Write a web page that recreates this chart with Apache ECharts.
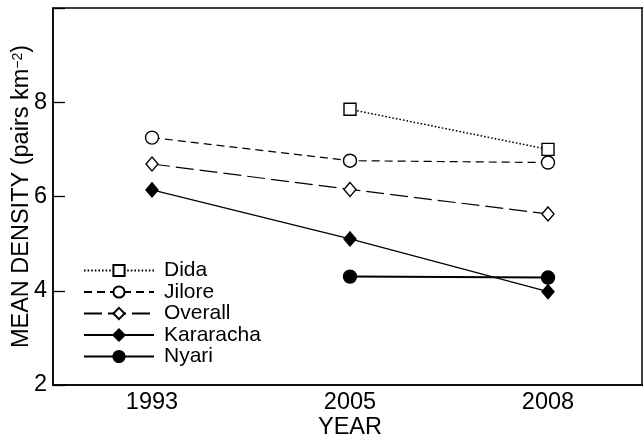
<!DOCTYPE html>
<html><head><meta charset="utf-8">
<script src="https://cdn.jsdelivr.net/npm/echarts@6/dist/echarts.min.js"></script>
<style>html,body{margin:0;padding:0;background:#fff}#c{width:643px;height:438px}</style>
</head><body><div id="c"></div>
<script>
const years = ['1993', '2005', '2008'];
const dida = [null, 7.85, 7.00];
const jilore = [7.25, 6.76, 6.72];
const overall = [6.69, 6.15, 5.63];
const kararacha = [6.14, 5.10, 3.98];
const nyari = [null, 4.30, 4.28];
const yTicks = [2, 4, 6, 8];

const FONT = '"Liberation Sans", Arial, sans-serif';
const chart = echarts.init(document.getElementById('c'), null, {renderer: 'canvas'});
const openStyle = {color: '#fff', borderColor: '#000', borderWidth: 1.4};
const filled = {color: '#000', borderColor: '#000', borderWidth: 1.4};
function mk(name, data, symbol, size, lineType, lw, item) {
  return {
    name, type: 'line', data, symbol, symbolSize: size,
    showAllSymbol: true, connectNulls: false,
    lineStyle: {color: '#000', width: lw, type: lineType},
    itemStyle: item, emphasis: {disabled: true}, z: 3
  };
}
chart.setOption({
  animation: false,
  textStyle: {fontFamily: FONT, color: '#000'},
  grid: {left: 53, right: -4, top: 8, bottom: 53, show: true, borderColor: '#000', borderWidth: 1.5,
    backgroundColor: 'transparent', containLabel: false, outerBoundsMode: 'none'},
  graphic: {elements: [{
    type: 'line', z: 100, silent: true,
    shape: {x1: 642, y1: 7.5, x2: 642, y2: 385.5},
    style: {stroke: '#000', lineWidth: 1.5}
  }]},
  legend: {
    orient: 'vertical', left: 83, top: 260, padding: 0, itemWidth: 70, itemHeight: 14, itemGap: 0.5,
    data: ['Dida', 'Jilore', 'Overall', 'Kararacha', 'Nyari'],
    textStyle: {fontFamily: FONT, fontSize: 21, color: '#000', padding: [0, 0, 0, 5]},
    selectedMode: false
  },
  xAxis: {
    type: 'category', data: years, boundaryGap: true,
    name: 'YEAR', nameLocation: 'middle', nameGap: 31, nameMoveOverlap: false,
    nameTextStyle: {fontSize: 23.5, color: '#000', verticalAlign: 'top', fontFamily: FONT},
    axisLine: {lineStyle: {color: '#000', width: 1.5}},
    axisTick: {inside: true, length: 11, interval: 0, lineStyle: {color: '#000', width: 1.3}},
    axisLabel: {fontSize: 23.5, color: '#000', margin: 6, fontFamily: FONT},
    splitLine: {show: false}
  },
  yAxis: {
    type: 'value', min: 2, max: 10, interval: 2,
    name: '{a|MEAN DENSITY (pairs km}{s|−2}{a|)}', nameLocation: 'middle', nameGap: 19, nameRotate: 90,
    nameMoveOverlap: false,
    nameTextStyle: {color: '#000', fontFamily: FONT, rich: {
      a: {fontSize: 23.5, fontFamily: FONT, color: '#000', lineHeight: 26, verticalAlign: 'bottom'},
      s: {fontSize: 14, fontFamily: FONT, color: '#000', lineHeight: 26, verticalAlign: 'bottom', padding: [0, 0, 9, 0]}
    }},
    axisLine: {show: true, lineStyle: {color: '#000', width: 1.5}},
    axisTick: {show: true, inside: true, length: 12, lineStyle: {color: '#000', width: 1.3}},
    axisLabel: {fontSize: 23.5, color: '#000', margin: 6, fontFamily: FONT,
      formatter: v => yTicks.includes(v) ? String(v) : ''},
    splitLine: {show: false}
  },
  series: [
    mk('Dida', dida, 'rect', 12, [1.6, 2], 1.5, openStyle),
    mk('Jilore', jilore, 'circle', 13, [8, 5], 1.2, openStyle),
    mk('Overall', overall, 'diamond', [12, 14], [18, 6], 1.2, openStyle),
    mk('Kararacha', kararacha, 'diamond', [12, 14], 'solid', 1.2, filled),
    mk('Nyari', nyari, 'circle', 13, 'solid', 2, filled)
  ]
});
</script></body></html>
